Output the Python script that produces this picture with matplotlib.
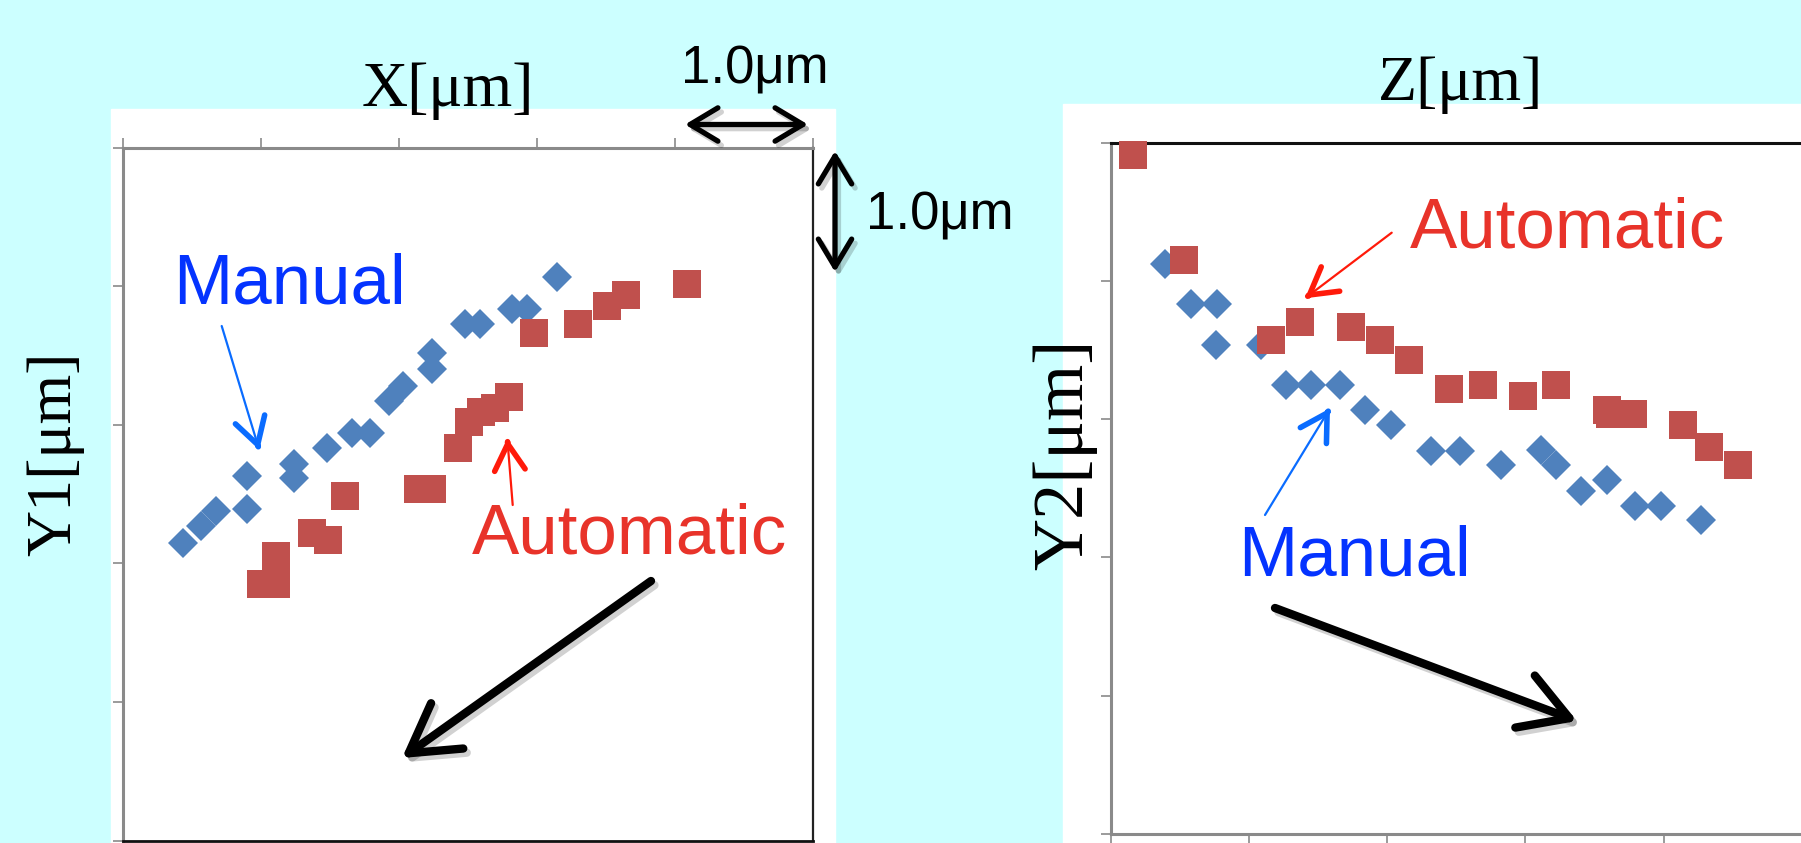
import matplotlib
matplotlib.use("Agg")
import matplotlib.pyplot as plt
from matplotlib.patches import Rectangle, FancyArrowPatch, ArrowStyle
import matplotlib.patheffects as pe
import numpy as np

# ---------------- data (μm) ----------------
left_manual_x = [0.44, 0.57, 0.68, 0.90, 0.90, 1.24, 1.24, 1.48, 1.66, 1.79,
                 1.93, 2.03, 2.24, 2.24, 2.48, 2.59, 2.82, 2.93, 3.15]
left_manual_y = [2.15, 2.27, 2.38, 2.63, 2.39, 2.72, 2.62, 2.83, 2.94, 2.94,
                 3.17, 3.28, 3.52, 3.40, 3.73, 3.73, 3.84, 3.84, 4.07]
left_auto_x = [1.11, 1.00, 1.11, 1.37, 1.49, 1.61, 2.14, 2.24, 2.43, 2.51,
               2.60, 2.70, 2.80, 2.98, 3.30, 3.51, 3.65, 4.09]
left_auto_y = [2.05, 1.85, 1.85, 2.22, 2.17, 2.49, 2.54, 2.54, 2.83, 3.02,
               3.09, 3.12, 3.20, 3.66, 3.73, 3.86, 3.94, 4.02]

right_manual_z = [0.39, 0.58, 0.77, 0.76, 1.09, 1.27, 1.45, 1.66, 1.84, 2.03,
                  2.32, 2.53, 2.82, 3.11, 3.22, 3.40, 3.59, 3.79, 3.98, 4.27]
right_manual_y = [4.12, 3.83, 3.83, 3.54, 3.54, 3.25, 3.25, 3.25, 3.07, 2.96,
                  2.77, 2.77, 2.67, 2.78, 2.67, 2.48, 2.56, 2.37, 2.37, 2.27]
right_auto_z = [0.16, 0.53, 1.16, 1.37, 1.74, 1.95, 2.16, 2.45, 2.69, 2.98,
                3.22, 3.59, 3.61, 3.78, 4.14, 4.33, 4.54]
right_auto_y = [4.91, 4.15, 3.57, 3.70, 3.67, 3.57, 3.43, 3.22, 3.25, 3.17,
                3.25, 3.07, 3.04, 3.04, 2.96, 2.80, 2.67]

ticks = [0, 1, 2, 3, 4, 5]

# ---------------- colours / fonts ----------------
BG = "#CCFFFF"
BLUE_PT = "#4F81BD"
RED_PT = "#C0504D"
TXT_BLUE = "#0433FF"
ARR_BLUE = "#0A6CFF"
TXT_RED = "#E8332A"
ARR_RED = "#FF1A0A"
GRAY = "#8A8A8A"
SANS = "Liberation Sans"
SERIF = "Liberation Serif"

W, H = 1801, 843
fig = plt.figure(figsize=(W / 100, H / 100), dpi=100, facecolor=BG)


def fx(px):
    return px / W


def fy(py):
    return 1 - py / H


def fp(p):
    return (fx(p[0]), fy(p[1]))


# white panels behind the plots
fig.patches.append(Rectangle((fx(111), fy(843)), (835 - 111) / W, (843 - 109) / H,
                             transform=fig.transFigure, color="white", zorder=-5))
fig.patches.append(Rectangle((fx(1063), fy(843)), (W - 1063) / W, (843 - 104) / H,
                             transform=fig.transFigure, color="white", zorder=-5))

# ---------------- axes ----------------
ax1 = fig.add_axes([fx(122.5), fy(840.5), 690.2 / W, 692.7 / H])
ax2 = fig.add_axes([fx(1110.7), fy(834.0), 691.3 / W, 691.3 / H])

for ax in (ax1, ax2):
    ax.set_xlim(0, 5)
    ax.set_ylim(0, 5)
    ax.set_xticks(ticks)
    ax.set_yticks(ticks)
    ax.set_xticklabels([])
    ax.set_yticklabels([])
    ax.set_facecolor("white")

# left panel styling
ax1.xaxis.set_ticks_position("top")
ax1.yaxis.set_ticks_position("left")
ax1.tick_params(direction="out", length=7.5, width=1.2, color=GRAY)
ax1.spines["top"].set_color(GRAY)
ax1.spines["top"].set_linewidth(2.2)
ax1.spines["left"].set_color(GRAY)
ax1.spines["left"].set_linewidth(2.2)
ax1.spines["right"].set_color("#222222")
ax1.spines["right"].set_linewidth(1.6)
ax1.spines["bottom"].set_color("#111111")
ax1.spines["bottom"].set_linewidth(2.0)

# right panel styling
ax2.xaxis.set_ticks_position("bottom")
ax2.yaxis.set_ticks_position("left")
ax2.tick_params(direction="out", length=7.5, width=1.2, color=GRAY)
ax2.spines["top"].set_color("#111111")
ax2.spines["top"].set_linewidth(2.2)
ax2.spines["left"].set_color(GRAY)
ax2.spines["left"].set_linewidth(2.2)
ax2.spines["bottom"].set_color(GRAY)
ax2.spines["bottom"].set_linewidth(2.2)
ax2.spines["right"].set_visible(False)

MS_D = 15.5
MS_S = 20.5
ax1.plot(left_manual_x, left_manual_y, "D", color=BLUE_PT, ms=MS_D, mew=0, zorder=3, clip_on=False)
ax1.plot(left_auto_x, left_auto_y, "s", color=RED_PT, ms=MS_S, mew=0, zorder=4, clip_on=False)
ax2.plot(right_manual_z, right_manual_y, "D", color=BLUE_PT, ms=MS_D, mew=0, zorder=3, clip_on=False)
ax2.plot(right_auto_z, right_auto_y, "s", color=RED_PT, ms=MS_S, mew=0, zorder=4, clip_on=False)

# ---------------- arrows ----------------
shadow = [pe.SimpleLineShadow(offset=(2.5, -3), shadow_color="k", alpha=0.18), pe.Normal()]


def arrow(tail, tip, color, lw, hl=None, hw=None, style="->", effects=None, z=6):
    if style == "-":
        st = ArrowStyle("-")
    else:
        st = ArrowStyle(style, head_length=hl, head_width=hw)
    a = FancyArrowPatch(fp(tail), fp(tip), transform=fig.transFigure, arrowstyle=st,
                        mutation_scale=1, color=color, lw=lw, shrinkA=0, shrinkB=0,
                        capstyle="round", joinstyle="round", zorder=z)
    if effects:
        a.set_path_effects(effects)
    fig.patches.append(a)


def thin_arrow(tail, tip, color):
    t = np.array(tail, float)
    p = np.array(tip, float)
    d = (p - t) / np.hypot(*(p - t))
    arrow(tail, p - d * 3, color, 1.6, style="-")
    arrow(p - d * 4, p, color, 4.0, 19, 11)


# big black arrows
arrow((651, 581), (402, 758), "black", 6.0, 34, 20, effects=shadow)
arrow((1275, 608), (1577, 721), "black", 6.0, 34, 20, effects=shadow)

# scale bars
arrow((685, 124.5), (808, 124.5), "black", 3.8, 20, 12, style="<->", effects=shadow)
arrow((835, 151), (835, 272), "black", 3.8, 20, 12, style="<->", effects=shadow)

# pointer arrows
thin_arrow((221.7, 326), (259.3, 450), ARR_BLUE)
thin_arrow((512.7, 505), (507.3, 438.3), ARR_RED)
thin_arrow((1391.7, 232.7), (1305, 298.3), ARR_RED)
thin_arrow((1265, 515), (1330, 408.3), ARR_BLUE)

# ---------------- texts ----------------
fig.text(fx(173), fy(304), "Manual", color=TXT_BLUE, fontsize=51, family=SANS,
         ha="left", va="baseline")
fig.text(fx(472), fy(554), "Automatic", color=TXT_RED, fontsize=51, family=SANS,
         ha="left", va="baseline")
fig.text(fx(1410), fy(247), "Automatic", color=TXT_RED, fontsize=51, family=SANS,
         ha="left", va="baseline")
fig.text(fx(1238), fy(576), "Manual", color=TXT_BLUE, fontsize=51, family=SANS,
         ha="left", va="baseline")

fig.text(fx(755), fy(84), "1.0μm", color="black", fontsize=38, family=SANS,
         ha="center", va="baseline")
fig.text(fx(866), fy(230), "1.0μm", color="black", fontsize=38, family=SANS,
         ha="left", va="baseline")

fig.text(fx(448), fy(106), "X[μm]", color="black", fontsize=46, family=SERIF,
         ha="center", va="baseline")
fig.text(fx(1461), fy(100), "Z[μm]", color="black", fontsize=46, family=SERIF,
         ha="center", va="baseline")
fig.text(fx(70), fy(454), "Y1[μm]", color="black", fontsize=46, family=SERIF,
         ha="center", va="baseline", rotation=90, rotation_mode="anchor")
fig.text(fx(1082), fy(454), "Y2[μm]", color="black", fontsize=52, family=SERIF,
         ha="center", va="baseline", rotation=90, rotation_mode="anchor")

fig.savefig("out.png", dpi=100, facecolor=BG)
